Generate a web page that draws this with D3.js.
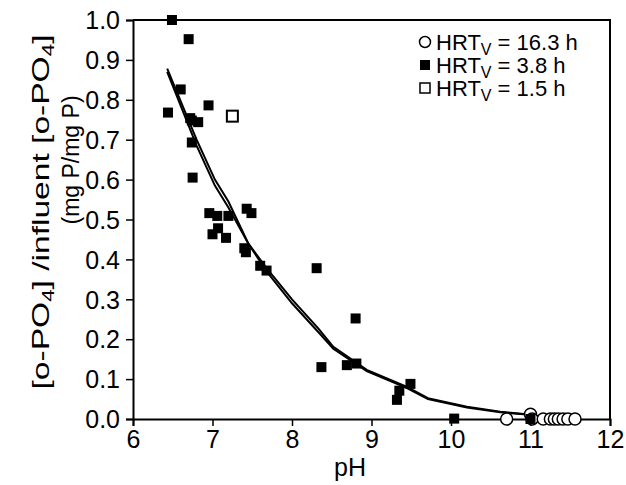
<!DOCTYPE html>
<html>
<head>
<meta charset="utf-8">
<script src="https://cdn.jsdelivr.net/npm/d3@7"></script>
<style>
  body { margin: 0; background: #fff; }
  text { font-family: "Liberation Sans", Arial, sans-serif; fill: #000; }
</style>
</head>
<body>
<div id="chart"></div>
<script>
// data
var hrt163_pH = [10.70, 11.00, 11.02, 11.16, 11.25, 11.30, 11.35, 11.41, 11.47, 11.56];
var hrt163_val = [0.0, 0.012, 0.0, 0.0, 0.0, 0.0, 0.0, 0.0, 0.0, 0.0];

var hrt38_pH = [6.49, 6.70, 6.60, 6.44, 6.95, 6.72, 6.74, 6.82, 6.74, 6.75, 6.96, 7.06, 7.20, 7.43, 7.49, 7.07,
  7.00, 7.17, 7.40, 7.42, 7.60, 7.68, 8.31, 8.80, 8.37, 8.69, 8.81, 9.35, 9.32, 9.49, 10.04, 11.0];
var hrt38_val = [1.0, 0.952, 0.826, 0.768, 0.786, 0.754, 0.748, 0.744, 0.693, 0.605, 0.516, 0.509, 0.509, 0.527, 0.516, 0.478,
  0.463, 0.454, 0.428, 0.418, 0.384, 0.372, 0.378, 0.252, 0.130, 0.135, 0.139, 0.071, 0.048, 0.088, 0.001, 0.0];

var hrt15_pH = [7.25];
var hrt15_val = [0.759];

// two model curves
var fit_pH = [6.43, 6.8, 7.03, 7.2, 7.45, 7.68, 8.0, 8.33, 8.52, 8.94, 9.44, 9.71, 10.2, 10.62, 10.95, 11.1];
var fitA_val = [0.878, 0.70, 0.60, 0.545, 0.44, 0.378, 0.30, 0.227, 0.181, 0.123, 0.081, 0.052, 0.031, 0.018, 0.012, 0.006];
var fitB_val = [0.870, 0.685, 0.585, 0.530, 0.44, 0.370, 0.29, 0.218, 0.176, 0.120, 0.078, 0.050, 0.029, 0.017, 0.011, 0.006];

var xTicks = [6, 7, 8, 9, 10, 11, 12];
var yTicks = [0, 0.1, 0.2, 0.3, 0.4, 0.5, 0.6, 0.7, 0.8, 0.9, 1.0];

var svgWidth = 626, svgHeight = 485;
var plot = { left: 133, right: 610, top: 20, bottom: 419 };

var svg = d3.select('#chart').append('svg')
  .attr('width', svgWidth)
  .attr('height', svgHeight);

var xScale = d3.scaleLinear().domain([6, 12]).range([plot.left, plot.right]);
var yScale = d3.scaleLinear().domain([0, 1]).range([plot.bottom, plot.top]);

// frame top + right
svg.append('path')
  .attr('d', `M${plot.left},${plot.top}H${plot.right}V${plot.bottom}`)
  .attr('fill', 'none')
  .attr('stroke', '#000')
  .attr('stroke-width', 2);

var xAxis = svg.append('g')
  .attr('transform', `translate(0,${plot.bottom})`)
  .call(d3.axisBottom(xScale).tickValues(xTicks).tickFormat(d3.format('d')).tickSizeOuter(0).tickSize(7).tickPadding(4));

var yAxis = svg.append('g')
  .attr('transform', `translate(${plot.left},0)`)
  .call(d3.axisLeft(yScale).tickValues(yTicks).tickFormat(d3.format('.1f')).tickSizeOuter(0).tickSize(7).tickPadding(6));

[xAxis, yAxis].forEach(function (a) {
  a.select('.domain').attr('stroke-width', 2);
  a.selectAll('.tick line').attr('stroke-width', 1.5);
  a.selectAll('.tick text').attr('font-size', 25).attr('font-family', '"Liberation Sans", Arial, sans-serif');
});
yAxis.selectAll('.tick text').attr('dy', '0.35em');

// axis titles
svg.append('text')
  .attr('x', 350).attr('y', 476)
  .attr('text-anchor', 'middle')
  .attr('font-size', 25)
  .text('pH');

var yt1 = svg.append('text')
  .attr('transform', 'translate(49,212)rotate(-90)')
  .attr('text-anchor', 'middle')
  .attr('font-size', 24)
  .attr('textLength', 355)
  .attr('lengthAdjust', 'spacingAndGlyphs');
yt1.append('tspan').text('[o-PO');
yt1.append('tspan').attr('font-size', 16).attr('dy', 5).text('4');
yt1.append('tspan').attr('dy', -5).text('] /influent [o-PO');
yt1.append('tspan').attr('font-size', 16).attr('dy', 5).text('4');
yt1.append('tspan').attr('dy', -5).text(']');

svg.append('text')
  .attr('transform', 'translate(79,160)rotate(-90)')
  .attr('text-anchor', 'middle')
  .attr('font-size', 23)
  .text('(mg P/mg P)');

// fitted lines
var line = d3.line()
  .x(function (d) { return xScale(d[0]); })
  .y(function (d) { return yScale(d[1]); });

[fitA_val, fitB_val].forEach(function (vals) {
  svg.append('path')
    .datum(fit_pH.map(function (p, i) { return [p, vals[i]]; }))
    .attr('d', line)
    .attr('fill', 'none')
    .attr('stroke', '#000')
    .attr('stroke-width', 2);
});

// HRT 16.3 h - open circles
svg.selectAll('.c163')
  .data(hrt163_pH.map(function (p, i) { return [p, hrt163_val[i]]; }))
  .enter().append('circle')
  .attr('class', 'c163')
  .attr('cx', function (d) { return xScale(d[0]); })
  .attr('cy', function (d) { return yScale(d[1]); })
  .attr('r', 6)
  .attr('fill', '#fff')
  .attr('stroke', '#000')
  .attr('stroke-width', 1.5);

// HRT 3.8 h - filled squares
var sq = 10;
svg.selectAll('.s38')
  .data(hrt38_pH.map(function (p, i) { return [p, hrt38_val[i]]; }))
  .enter().append('rect')
  .attr('class', 's38')
  .attr('x', function (d) { return xScale(d[0]) - sq / 2; })
  .attr('y', function (d) { return yScale(d[1]) - sq / 2; })
  .attr('width', sq).attr('height', sq)
  .attr('fill', '#000');

// HRT 1.5 h - open square
var osq = 11;
svg.selectAll('.s15')
  .data(hrt15_pH.map(function (p, i) { return [p, hrt15_val[i]]; }))
  .enter().append('rect')
  .attr('class', 's15')
  .attr('x', function (d) { return xScale(d[0]) - osq / 2; })
  .attr('y', function (d) { return yScale(d[1]) - osq / 2; })
  .attr('width', osq).attr('height', osq)
  .attr('fill', '#fff')
  .attr('stroke', '#000')
  .attr('stroke-width', 2);

// legend
var legend = svg.append('g');
var rows = [
  { label: '16.3', y: 42, shape: 'circle' },
  { label: '3.8', y: 65, shape: 'filled' },
  { label: '1.5', y: 88, shape: 'open' }
];
rows.forEach(function (r) {
  if (r.shape === 'circle') {
    legend.append('circle').attr('cx', 425).attr('cy', r.y).attr('r', 5.5)
      .attr('fill', '#fff').attr('stroke', '#000').attr('stroke-width', 1.5);
  } else if (r.shape === 'filled') {
    legend.append('rect').attr('x', 420).attr('y', r.y - 5).attr('width', 10).attr('height', 10).attr('fill', '#000');
  } else {
    legend.append('rect').attr('x', 420).attr('y', r.y - 5).attr('width', 10).attr('height', 10)
      .attr('fill', '#fff').attr('stroke', '#000').attr('stroke-width', 1.5);
  }
  var t = legend.append('text').attr('x', 436).attr('y', r.y + 8).attr('font-size', 22);
  t.append('tspan').text('HRT');
  t.append('tspan').attr('font-size', 16).attr('dy', 5).text('V');
  t.append('tspan').attr('dy', -5).text(' = ' + r.label + ' h');
});
</script>
</body>
</html>
